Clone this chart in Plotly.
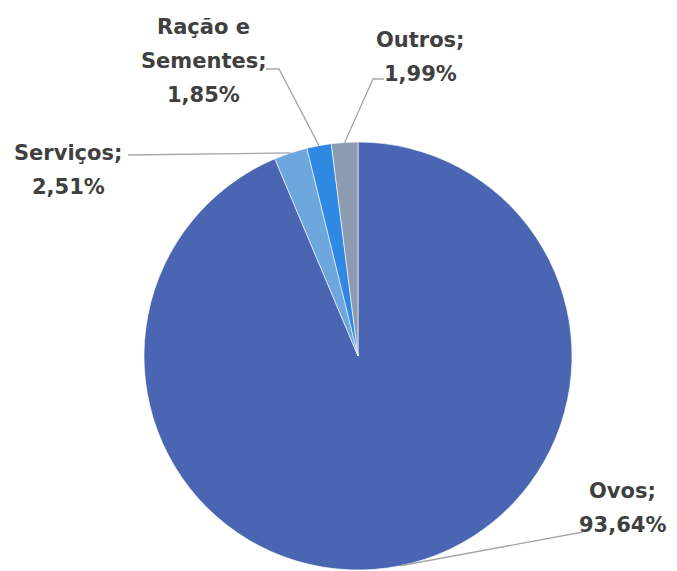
import math
import plotly.graph_objects as go

# slice data (clockwise from 12 o'clock)
labels = ["Ovos", "Serviços", "Ração e Sementes", "Outros"]
values = [93.64, 2.51, 1.85, 1.99]
colors = ["#4a66b3", "#6ea6de", "#2f88e2", "#8d9bb1"]
label_text = {
    "Ovos": ["Ovos;", "93,64%"],
    "Serviços": ["Serviços;", "2,51%"],
    "Ração e Sementes": ["Ração e", "Sementes;", "1,85%"],
    "Outros": ["Outros;", "1,99%"],
}

# page has an 8px body margin, so the figure is drawn 8px in from the corner
OFF = 8
W, H = 677 - OFF, 571 - OFF
CX, CY, R = 358, 356, 214

# label layout in screen pixels: text centre x, first line y, leader line points
label_pos = {
    "Ovos": dict(x=622, y=491, elbow=[(583, 532)]),
    "Serviços": dict(x=68, y=153, elbow=[(128, 155)]),
    "Ração e Sementes": dict(x=204, y=27, elbow=[(279, 69), (266, 69)]),
    "Outros": dict(x=420, y=40, elbow=[(373, 79), (384, 79)]),
}
LINE_GAP = 34


def px(x, y):
    return (x - OFF) / W, 1 - (y - OFF) / H


x0, y1 = px(CX - R, CY - R)
x1, y0 = px(CX + R, CY + R)

fig = go.Figure(go.Pie(
    labels=labels,
    values=values,
    sort=False,
    direction="clockwise",
    rotation=0,
    textinfo="none",
    hoverinfo="label+percent",
    marker=dict(colors=colors, line=dict(color="#ffffff", width=0.6)),
    domain=dict(x=[x0, x1], y=[y0, y1]),
))

annotations = []
shapes = []
total = sum(values)
cum = 0
for lab, v in zip(labels, values):
    mid = (cum + v / 2) / total * 2 * math.pi
    cum += v
    ex = CX + R * math.sin(mid)
    ey = CY - R * math.cos(mid)
    pts = [(ex, ey)] + label_pos[lab]["elbow"]
    path = ""
    for i, (x, y) in enumerate(pts):
        xx, yy = px(x, y)
        path += ("M" if i == 0 else " L") + f" {xx} {yy}"
    shapes.append(dict(type="path", xref="paper", yref="paper", path=path,
                       line=dict(color="#a6a6a6", width=1.3)))
    for j, t in enumerate(label_text[lab]):
        xx, yy = px(label_pos[lab]["x"], label_pos[lab]["y"] + j * LINE_GAP)
        annotations.append(dict(x=xx, y=yy, xref="paper", yref="paper", text=t,
                                showarrow=False, xanchor="center", yanchor="middle",
                                font=dict(family="DejaVu Sans", size=21, color="#404040")))

fig.update_layout(
    width=W, height=H,
    margin=dict(l=0, r=0, t=0, b=0),
    showlegend=False,
    paper_bgcolor="white",
    annotations=annotations,
    shapes=shapes,
)
fig.update_annotations(font_weight="bold")

fig.write_html("out.html")
